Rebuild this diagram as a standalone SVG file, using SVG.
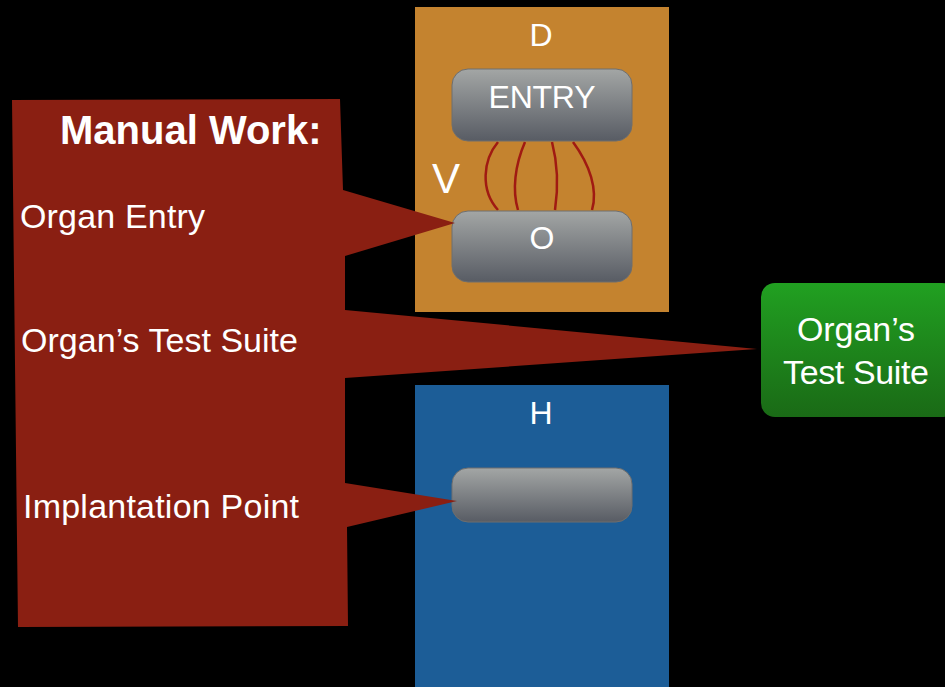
<svg xmlns="http://www.w3.org/2000/svg" width="945" height="687" viewBox="0 0 945 687">
<defs>
<linearGradient id="gray" x1="0" y1="0" x2="0" y2="1"><stop offset="0" stop-color="#a3a6a5"/><stop offset="1" stop-color="#585c64"/></linearGradient>
<linearGradient id="green" x1="0" y1="0" x2="0" y2="1"><stop offset="0" stop-color="#21a021"/><stop offset="1" stop-color="#1a6a16"/></linearGradient>
<style>
text{font-family:"Liberation Sans",Arial,sans-serif;fill:#fff;}
.lbl{font-size:32px;}
.side{font-size:34px;}
.c{text-anchor:middle;}
.box{fill:url(#gray);stroke:#6e6e6e;stroke-width:1;}
.wire{fill:none;stroke:#a01a12;stroke-width:2.5;}
</style>
</defs>
<rect width="945" height="687" fill="#000"/>
<g id="panel-D">
<rect x="415" y="7" width="254" height="305" fill="#c4832f"/>
<text class="lbl c" x="541" y="46">D</text>
<text x="446" y="193" font-size="42" class="c">V</text>
</g>
<g id="panel-H">
<rect x="415" y="385" width="254" height="302" fill="#1c5d97"/>
<text class="lbl c" x="541" y="424">H</text>
</g>
<g id="connectors">
<path class="wire" d="M498,142 C483,160 480,190 498,210"/>
<path class="wire" d="M525,142 C515,165 512,190 518,210"/>
<path class="wire" d="M552,142 C558,165 558,190 555,210"/>
<path class="wire" d="M573,142 C590,165 598,190 592,210"/>
</g>
<g id="node-entry">
<rect class="box" x="452" y="69" width="180" height="72" rx="16"/>
<text class="lbl c" x="542" y="108" textLength="107">ENTRY</text>
</g>
<g id="node-o">
<rect class="box" x="452" y="211" width="180" height="71" rx="16"/>
<text class="lbl c" x="542" y="249">O</text>
</g>
<g id="node-h">
<rect class="box" x="452" y="468" width="180" height="54" rx="16"/>
</g>
<g id="node-suite">
<rect x="761" y="283" width="195" height="134" rx="14" fill="url(#green)"/>
<text class="c" x="856" y="341" font-size="34" textLength="118">Organ’s</text>
<text class="c" x="856" y="384" font-size="34" textLength="146">Test Suite</text>
</g>
<g id="manual-work">
<path d="M12,100 L340,99 L343,190 L455,223 L345,256 L345,310 L757,349 L345,378 L345,483 L457,501 L347,527 L348,626 L18,627 Z" fill="#8a1f12"/>
<text x="60" y="144" font-size="40" font-weight="bold">Manual Work:</text>
<text class="side" x="20" y="228" textLength="185">Organ Entry</text>
<text class="side" x="21" y="352" textLength="277">Organ’s Test Suite</text>
<text class="side" x="23" y="518" textLength="276">Implantation Point</text>
</g>
</svg>
